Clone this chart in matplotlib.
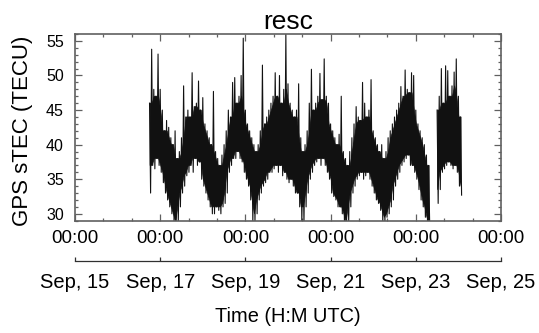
import numpy as np
import pandas as pd
import matplotlib.pyplot as plt
from matplotlib.ticker import MultipleLocator

plt.rcParams['font.family'] = ['Liberation Sans', 'DejaVu Sans']

# sTEC samples: one bin every 0.05 day, time in days after Sep 15 00:00 UTC
t_start = 1.75
t_step = 0.05

# max / min sTEC seen in each bin (TECU)
tec_hi = [46, 53.8, 48, 47, 53.1, 48, 45, 42, 43.5, 42.5,
          41, 40, 42, 38, 39, 41, 48.5, 44, 45, 44,
          50.4, 45.5, 46, 49.2, 45, 46.8, 43, 42, 41, 40,
          47.7, 39, 38, 37, 38.5, 40, 42, 45, 44, 49,
          49.7, 46, 47, 50, 55.4, 45, 43, 42, 41, 40,
          39, 40, 42, 51.5, 43, 44, 45, 46, 47, 50.4,
          47, 50, 46, 48, 56, 48.8, 46, 45, 44, 45,
          48.8, 41, 39, 40, 42, 46, 50.9, 45, 46, 47,
          50.3, 46.5, 52.4, 47, 46, 43, 42, 41, 40, 41.5,
          47, 39, 38, 37, 39, 41, 43, 45.5, 44, 43.5,
          49, 46, 44, 45, 49.4, 42, 41, 40, 39, 40,
          38, 39, 41, 42, 43, 44, 45, 46, 48.4, 47,
          50.8, 48, 47.5, 50.4, 50, 45, 43, 42, 41, 40,
          38.5, 37, np.nan, np.nan, np.nan, 45, 47, 51, 46, 51.4,
          50.7, 47, 48.5, 50.5, 52.4, 47, 44]
tec_lo = [33, 37, 36.5, 38, 37, 36, 34.5, 33, 32, 31,
          30, 28.8, 28.8, 28.8, 31, 33, 34, 35.5, 36, 37,
          36, 38, 37, 37.5, 35, 34, 33, 32, 31, 30,
          30, 31, 30.5, 30, 31, 31.5, 33, 36, 37, 38,
          38, 39, 38, 37.5, 36, 35, 34, 32, 28.8, 28.8,
          30, 32, 33, 34, 34.5, 35, 36, 36, 36.5, 37,
          36, 37, 35.5, 36, 35, 34.5, 35, 34, 33, 33,
          31, 28.8, 28.8, 31, 33, 35, 36, 37, 37.5, 38,
          37, 38, 37, 36, 35, 33, 32.5, 32, 31, 31,
          30, 28.8, 28.8, 28.8, 31, 33, 34, 35, 35.5, 36,
          35, 35.5, 36, 35, 34, 33, 32, 31.5, 30.5, 28.8,
          28.8, 29.5, 30, 31, 32, 34, 35, 36, 37, 37.5,
          38, 38.5, 37, 37, 36, 35, 33.5, 32, 31, 29.5,
          28.8, 28.8, np.nan, np.nan, np.nan, 31.5, 33.5, 36, 36.5, 37,
          37.5, 37, 36.5, 37, 36, 34, 32.7]

day_ticks = [0, 2, 4, 6, 8, 10]
hour_labels = ['00:00'] * 6
date_labels = ['Sep, 15', 'Sep, 17', 'Sep, 19', 'Sep, 21', 'Sep, 23', 'Sep, 25']

t = t_start + t_step * np.arange(len(tec_hi))
x = np.column_stack([t, t + t_step / 2]).ravel()
y = np.column_stack([tec_hi, tec_lo]).ravel()

# solid core = range that neighbouring bins all cover
hi_s = pd.Series(tec_hi)
lo_s = pd.Series(tec_lo)
core_hi = hi_s.rolling(3, center=True, min_periods=2).min()
core_lo = lo_s.rolling(3, center=True, min_periods=2).max()

fig = plt.figure(figsize=(5.39, 3.33), dpi=100)
ax = fig.add_axes([0.1391, 0.3372, 0.7904, 0.5607])

ax.fill_between(t + t_step / 4, core_lo, core_hi, color='#111111', lw=0.5)
ax.plot(x, y, color='#111111', lw=0.8)

ax.set_xlim(0, 10)
ax.set_ylim(29.0, 56.0)
ax.set_xticks(day_ticks, hour_labels)
ax.xaxis.set_minor_locator(MultipleLocator(2 / 3))
ax.yaxis.set_major_locator(MultipleLocator(5))
ax.yaxis.set_minor_locator(MultipleLocator(1))

axis_col = '#606060'
for s in ax.spines.values():
    s.set_color(axis_col)
    s.set_linewidth(1.2)
ax.tick_params(which='both', direction='in', top=True, right=True, color=axis_col, width=0.9)
ax.tick_params(which='major', length=5)
ax.tick_params(which='minor', length=2.5)
ax.tick_params(axis='x', labelsize=13.5, pad=6.5)
ax.tick_params(axis='y', labelsize=11.5, pad=8)

ax.set_title('resc', fontsize=19, pad=3)
ax.set_ylabel('GPS sTEC (TECU)', fontsize=16)
ax.yaxis.set_label_coords(-0.098, 0.483)

sec = ax.secondary_xaxis(-0.2142)
sec.set_xticks(day_ticks, date_labels)
sec.tick_params(direction='in', length=3, width=0.9, color='#303030', labelsize=14.5, pad=9)
sec.spines['bottom'].set_color('#303030')
sec.spines['bottom'].set_linewidth(0.9)

fig.text(288 / 539, 1 - 316 / 333, 'Time (H:M UTC)', fontsize=14.4, ha='center', va='center')

fig.savefig('out.png', dpi=100)
plt.close()
